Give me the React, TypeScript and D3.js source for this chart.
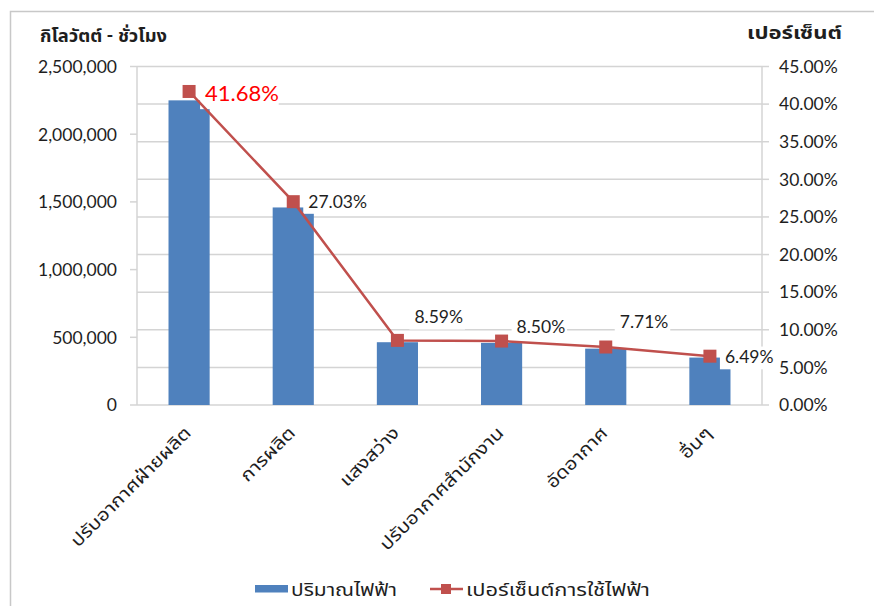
import React from "react";
import * as d3 from "d3";

// Electricity use by category (kWh) and share of total (%)
const categories = [
  "ปรับอากาศฝ่ายผลิต",
  "การผลิต",
  "แสงสว่าง",
  "ปรับอากาศสำนักงาน",
  "อัดอากาศ",
  "อื่นๆ",
];
const energyKWh = [2250000, 1459000, 463700, 458800, 416200, 350300];
const sharePct = [41.68, 27.03, 8.59, 8.5, 7.71, 6.49];

const leftTicks = [0, 500000, 1000000, 1500000, 2000000, 2500000];
const rightTicks = [0, 5, 10, 15, 20, 25, 30, 35, 40, 45];

const leftTitle = "กิโลวัตต์ - ชั่วโมง";
const rightTitle = "เปอร์เซ็นต์";
const barLegend = "ปริมาณไฟฟ้า";
const lineLegend = "เปอร์เซ็นต์การใช้ไฟฟ้า";

// label placement relative to each marker: [dx, dy(baseline)]
const labelOffsets: [number, number][] = [
  [16, 10],
  [15, 6],
  [17, -17],
  [15, -8],
  [14, -19],
  [15, 7],
];

const W = 874;
const H = 606;
const X0 = 137;
const X1 = 762;
const YT = 66.5;
const YB = 405;

const FONT = "Lato, 'Noto Sans Thai', 'Noto Sans', 'DejaVu Sans', sans-serif";
const BAR = "#4F81BD";
const LINE = "#C0504D";
const GRID = "#D4D4D4";
const TXT = "#1E1E1E";
// Thai runs are set a little wider than the fallback face draws them
const THAI_STRETCH = 1.18;

export default function App() {
  const x = d3.scaleBand<string>().domain(categories).range([X0, X1]).padding(0);
  const yL = d3.scaleLinear().domain([0, 2500000]).range([YB, YT]);
  const yR = d3.scaleLinear().domain([0, 45]).range([YB, YT]);
  const barW = x.bandwidth() * 0.395;
  const cx = (c: string) => (x(c) as number) + x.bandwidth() / 2;
  const fmtL = d3.format(",");
  const fmtR = (v: number) => v.toFixed(2) + "%";

  const linePath = d3
    .line<number>()
    .x((_, i) => cx(categories[i]))
    .y((v) => yR(v))(sharePct) as string;

  const labels = sharePct.map((v, i) => {
    const first = i === 0;
    const fs = first ? 22 : 17.5;
    const text = fmtR(v);
    const tx = cx(categories[i]) + labelOffsets[i][0];
    const ty = yR(v) + labelOffsets[i][1];
    const tw = text.length * fs * 0.52;
    return { text, fs, tx, ty, tw, color: first ? "#FF0000" : TXT };
  });

  return (
    <svg
      width={W}
      height={H}
      style={{ position: "absolute", left: 0, top: 0, background: "#fff" }}
      fontFamily={FONT}
    >
      <rect x={10.5} y={11.5} width={W + 20} height={H + 20} fill="#fff" stroke="#C8C8C8" strokeWidth={1.5} />

      {/* gridlines follow the percentage axis */}
      {rightTicks.map((t) => (
        <line key={"g" + t} x1={X0} x2={X1} y1={yR(t)} y2={yR(t)} stroke={GRID} strokeWidth={1.5} />
      ))}

      {/* left axis */}
      <line x1={X0} x2={X0} y1={YT} y2={YB} stroke={GRID} strokeWidth={1.5} />
      {leftTicks.map((t) => (
        <g key={"l" + t}>
          <line x1={X0 - 7} x2={X0} y1={yL(t)} y2={yL(t)} stroke={GRID} strokeWidth={1.5} />
          <text x={117} y={yL(t)} dy="0.36em" textAnchor="end" fontSize={17.5} fill={TXT}>
            {fmtL(t)}
          </text>
        </g>
      ))}

      {/* right axis */}
      <line x1={X1} x2={X1} y1={YT} y2={YB} stroke={GRID} strokeWidth={1.5} />
      {rightTicks.map((t) => (
        <g key={"r" + t}>
          <line x1={X1} x2={X1 + 7} y1={yR(t)} y2={yR(t)} stroke={GRID} strokeWidth={1.5} />
          <text x={779} y={yR(t)} dy="0.36em" textAnchor="start" fontSize={17.5} fill={TXT}>
            {fmtR(t)}
          </text>
        </g>
      ))}

      <text x={40} y={42} fontSize={18} fontWeight="bold" fill={TXT} textLength={127} lengthAdjust="spacingAndGlyphs">
        {leftTitle}
      </text>
      <text x={747} y={39} fontSize={18} fontWeight="bold" fill={TXT} textLength={95} lengthAdjust="spacingAndGlyphs">
        {rightTitle}
      </text>

      {/* bars */}
      {categories.map((c, i) => (
        <rect
          key={"b" + c}
          x={cx(c) - barW / 2}
          y={yL(energyKWh[i])}
          width={barW}
          height={YB - yL(energyKWh[i])}
          fill={BAR}
        />
      ))}

      {/* label backgrounds */}
      {labels.map((l, i) => (
        <rect
          key={"lb" + i}
          x={l.tx - 5}
          y={l.ty - l.fs * 0.95}
          width={l.tw + 10}
          height={l.fs * 1.3}
          fill="#fff"
        />
      ))}

      {/* share line */}
      <path d={linePath} fill="none" stroke={LINE} strokeWidth={2.5} />
      {sharePct.map((v, i) => (
        <rect
          key={"m" + i}
          x={cx(categories[i]) - 6.5}
          y={yR(v) - 6.5}
          width={13}
          height={13}
          fill={LINE}
        />
      ))}

      {labels.map((l, i) => (
        <text key={"lt" + i} x={l.tx} y={l.ty} fontSize={l.fs} fill={l.color}>
          {l.text}
        </text>
      ))}

      {/* category labels */}
      {categories.map((c) => (
        <text
          key={"c" + c}
          transform={`translate(${cx(c) + 3},${434}) rotate(-45) scale(${THAI_STRETCH},1)`}
          textAnchor="end"
          fontSize={17.5}
          fill={TXT}
        >
          {c}
        </text>
      ))}

      {/* legend */}
      <rect x={255} y={585} width={33} height={7.5} fill={BAR} />
      <text x={291} y={596} fontSize={17.5} fill={TXT} textLength={106} lengthAdjust="spacingAndGlyphs">
        {barLegend}
      </text>
      <line x1={430} x2={463} y1={589} y2={589} stroke={LINE} strokeWidth={2.5} />
      <rect x={441} y={584} width={10} height={10} fill={LINE} />
      <text x={466} y={596} fontSize={17.5} fill={TXT} textLength={184} lengthAdjust="spacingAndGlyphs">
        {lineLegend}
      </text>
    </svg>
  );
}
